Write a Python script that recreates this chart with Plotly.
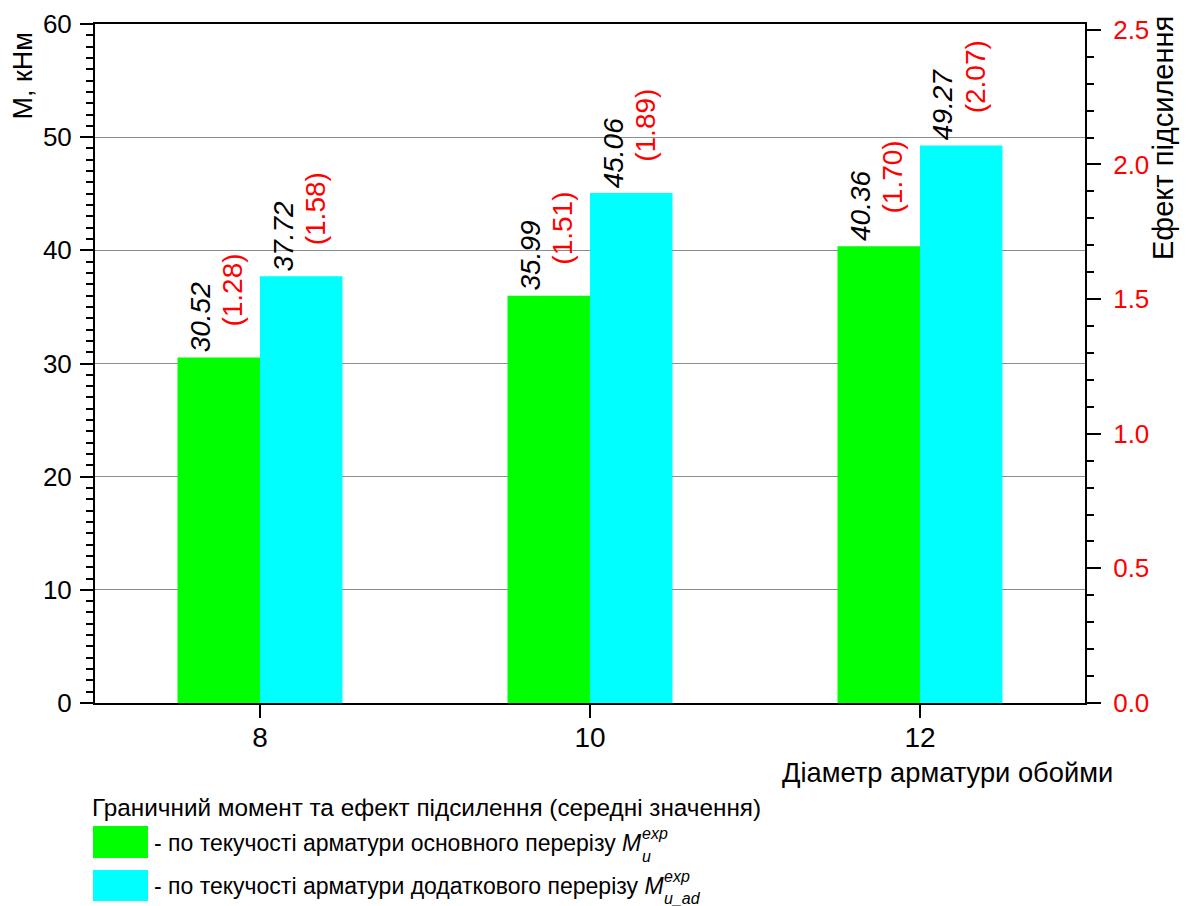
import plotly.graph_objects as go

# ---- data ----
diameters = [8, 10, 12]
tick_labels = ["8", "10", "12"]
m_main = [30.52, 35.99, 40.36]      # M_u^exp, kNm
m_add = [37.72, 45.06, 49.27]       # M_u_ad^exp, kNm
eff_main = [1.28, 1.51, 1.70]       # strengthening effect
eff_add = [1.58, 1.89, 2.07]

FONT = "Liberation Sans, Arial, sans-serif"
W, H = 1186, 906
# plot area in pixels
L, R, T, B = 95, 1085, 24, 703


def px(x):
    return (x - L) / (R - L)


def py(y):
    return (B - y) / (B - T)


fig = go.Figure()
fig.add_bar(x=diameters, y=m_main, marker=dict(color="#00FF00", line=dict(width=0)),
            showlegend=False, hoverinfo="skip")
fig.add_bar(x=diameters, y=m_add, marker=dict(color="#00FFFF", line=dict(width=0)),
            showlegend=False, hoverinfo="skip")
# invisible trace carrying the effect values on the right axis
fig.add_scatter(x=diameters, y=eff_add, yaxis="y2", mode="markers",
                marker=dict(opacity=0), showlegend=False, hoverinfo="skip")

ann = []
for i, d in enumerate(diameters):
    for off, m, e in [(-0.25, m_main[i], eff_main[i]), (0.25, m_add[i], eff_add[i])]:
        ann.append(dict(x=d + off, y=m, xref="x", yref="y", text=f"<i>{m:.2f}</i>",
                        textangle=-90, showarrow=False, xanchor="center", yanchor="bottom",
                        xshift=-18, yshift=3, font=dict(family=FONT, size=28, color="black")))
        ann.append(dict(x=d + off, y=e, xref="x", yref="y2", text=f"({e:.2f})",
                        textangle=-90, showarrow=False, xanchor="center", yanchor="bottom",
                        xshift=14, yshift=30, font=dict(family=FONT, size=28, color="red")))

# axis titles
ann.append(dict(x=px(23), y=py(31), xref="paper", yref="paper", text="М, кНм", textangle=-90,
                showarrow=False, xanchor="center", yanchor="top",
                font=dict(family=FONT, size=27, color="black")))
ann.append(dict(x=px(1163), y=py(14), xref="paper", yref="paper", text="Ефект підсилення",
                textangle=-90, showarrow=False, xanchor="center", yanchor="top",
                font=dict(family=FONT, size=29, color="black")))
ann.append(dict(x=px(1115), y=py(772), xref="paper", yref="paper", text="Діаметр арматури обойми",
                showarrow=False, xanchor="right", yanchor="middle",
                font=dict(family=FONT, size=27.3, color="black")))

# legend
ann.append(dict(x=px(90), y=py(808), xref="paper", yref="paper",
                text="Граничний момент та ефект підсилення (середні значення)",
                showarrow=False, xanchor="left", yanchor="middle",
                font=dict(family=FONT, size=24.3, color="black")))
# (prefix, subscript, text centre y, x where the indices start)
items = [
    ("- по текучості арматури основного перерізу ", "u", 843, 640),
    ("- по текучості арматури додаткового перерізу ", "u_ad", 886, 662),
]
for prefix, sub, yc, xi in items:
    ann.append(dict(x=px(152), y=py(yc), xref="paper", yref="paper",
                    text=prefix + "<i>M</i>",
                    showarrow=False, xanchor="left", yanchor="middle",
                    font=dict(family=FONT, size=23, color="black")))
    ann.append(dict(x=px(xi), y=py(yc - 10), xref="paper", yref="paper",
                    text="<i>exp</i>", showarrow=False, xanchor="left", yanchor="middle",
                    font=dict(family=FONT, size=16, color="black")))
    ann.append(dict(x=px(xi), y=py(yc + 13), xref="paper", yref="paper",
                    text="<i>" + sub + "</i>", showarrow=False, xanchor="left", yanchor="middle",
                    font=dict(family=FONT, size=16, color="black")))

shapes = [
    dict(type="rect", xref="paper", yref="paper", x0=px(93), x1=px(148), y0=py(826), y1=py(858),
         fillcolor="#00FF00", line=dict(width=0)),
    dict(type="rect", xref="paper", yref="paper", x0=px(93), x1=px(148), y0=py(870), y1=py(901),
         fillcolor="#00FFFF", line=dict(width=0)),
]

fig.update_layout(
    width=W, height=H,
    margin=dict(l=L, r=W - R, t=T, b=H - B, pad=0, autoexpand=False),
    paper_bgcolor="white", plot_bgcolor="white",
    barmode="group", bargap=0.5, bargroupgap=0,
    font=dict(family=FONT, color="black"),
    annotations=ann, shapes=shapes,
    xaxis=dict(range=[7, 13], tickvals=diameters, ticktext=tick_labels, automargin=False,
               ticks="outside", ticklen=13, tickwidth=2, tickcolor="black",
               showline=True, linecolor="black", linewidth=2, mirror=True,
               showgrid=False, zeroline=False, tickfont=dict(size=28),
               ticklabelstandoff=-5),
    yaxis=dict(range=[0, 60], dtick=10, ticks="outside", ticklen=13, tickwidth=2,
               tickcolor="black", showline=True, linecolor="black", linewidth=2,
               showgrid=True, gridcolor="#8c8c8c", gridwidth=1, zeroline=False,
               tickfont=dict(size=26), ticklabelstandoff=3, automargin=False,
               minor=dict(dtick=1, ticks="outside", ticklen=7, tickwidth=2,
                          tickcolor="black", showgrid=False)),
    yaxis2=dict(range=[0, 2.5215], overlaying="y", side="right", dtick=0.5, tickformat=".1f",
                ticks="outside", ticklen=14, tickwidth=2, tickcolor="black",
                showline=True, linecolor="black", linewidth=2, showgrid=False,
                zeroline=False, tickfont=dict(size=26, color="red"), ticklabelstandoff=7,
                automargin=False,
                minor=dict(dtick=0.1, ticks="outside", ticklen=7, tickwidth=2,
                           tickcolor="black", showgrid=False)),
)

# remove the page's default 8px body margin so the figure fills the window exactly
fig.write_html("out.html", config={"displayModeBar": False},
               post_script="document.body.style.margin='0';")
